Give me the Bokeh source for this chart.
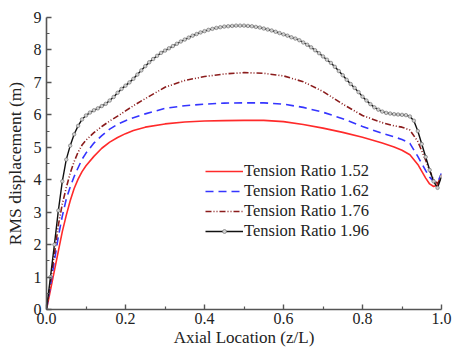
from bokeh.plotting import figure
from bokeh.models import Legend, LegendItem, FixedTicker, Range1d
from bokeh.embed import file_html
from bokeh.resources import INLINE

# ---- data ----
x_main = [0, 0.01, 0.02, 0.03, 0.04, 0.05, 0.06, 0.07, 0.08, 0.09, 0.10, 0.12, 0.14, 0.16,
          0.18, 0.20, 0.22, 0.25, 0.30, 0.35, 0.40, 0.45, 0.50, 0.55, 0.60, 0.65, 0.70,
          0.75, 0.80, 0.85, 0.88, 0.90, 0.92, 0.94, 0.96, 0.97, 0.98, 0.99, 1.0]
rms_152 = [0, 0.6, 1.2, 1.8, 2.4, 2.9, 3.35, 3.73, 4.02, 4.25, 4.43, 4.72, 4.97, 5.16, 5.3,
           5.42, 5.52, 5.62, 5.72, 5.78, 5.81, 5.82, 5.83, 5.83, 5.79, 5.7, 5.59, 5.46, 5.31,
           5.13, 5.01, 4.91, 4.77, 4.47, 4.05, 3.87, 3.79, 3.84, 4.15]
rms_162 = [0, 0.75, 1.5, 2.25, 2.88, 3.4, 3.78, 4.1, 4.37, 4.63, 4.82, 5.13, 5.36, 5.56, 5.71,
           5.82, 5.91, 6.03, 6.2, 6.28, 6.33, 6.36, 6.37, 6.37, 6.33, 6.23, 6.08, 5.88, 5.64,
           5.43, 5.32, 5.24, 5.12, 4.72, 4.28, 4.08, 3.95, 3.92, 4.2]
rms_176 = [0, 0.85, 1.7, 2.6, 3.25, 3.75, 4.2, 4.56, 4.85, 5.07, 5.22, 5.45, 5.64, 5.81, 5.96,
           6.12, 6.28, 6.5, 6.85, 7.06, 7.18, 7.26, 7.3, 7.28, 7.2, 7.02, 6.72, 6.33, 5.98,
           5.76, 5.66, 5.62, 5.53, 5.18, 4.6, 4.28, 4.0, 3.88, 4.1]
x_196 = [i / 100 for i in range(101)]
rms_196 = [0, 1.0, 2.0, 3.05, 3.95, 4.62, 5.05, 5.4, 5.66, 5.86,
           5.98, 6.07, 6.14, 6.2, 6.27, 6.34, 6.44, 6.55, 6.68, 6.8,
           6.9, 7.0, 7.11, 7.24, 7.37, 7.5, 7.62, 7.72, 7.82, 7.91,
           7.98, 8.05, 8.12, 8.19, 8.26, 8.32, 8.38, 8.44, 8.49, 8.54,
           8.58, 8.62, 8.65, 8.68, 8.7, 8.72, 8.73, 8.74, 8.75, 8.75,
           8.75, 8.74, 8.73, 8.71, 8.69, 8.66, 8.63, 8.6, 8.56, 8.52,
           8.48, 8.44, 8.39, 8.35, 8.3, 8.23, 8.16, 8.08, 7.99, 7.9,
           7.8, 7.7, 7.6, 7.48, 7.35, 7.22, 7.08, 6.95, 6.83, 6.7,
           6.56, 6.44, 6.33, 6.23, 6.16, 6.1, 6.06, 6.04, 6.02, 6.01,
           6.0, 5.99, 5.95, 5.82, 5.5, 5.1, 4.7, 4.3, 3.95, 3.75,
           4.1]
labels = ["Tension Ratio 1.52", "Tension Ratio 1.62", "Tension Ratio 1.76", "Tension Ratio 1.96"]
x_ticks = [0.0, 0.2, 0.4, 0.6, 0.8, 1.0]
y_ticks = [0, 1, 2, 3, 4, 5, 6, 7, 8, 9]

FONT = "Liberation Serif"
AX = "#555555"

p = figure(width=452, height=349, output_backend="svg", toolbar_location=None,
           x_range=Range1d(0, 1.0), y_range=Range1d(0, 9),
           min_border_left=46, min_border_right=11, min_border_top=17, min_border_bottom=38)
p.outline_line_color = None
p.grid.visible = False
p.background_fill_color = "white"

r1 = p.line(x_main, rms_152, line_color="#ff2a2a", line_width=1.6)
r2 = p.line(x_main, rms_162, line_color="#3535ff", line_width=1.6, line_dash="8 5")
r3 = p.line(x_main, rms_176, line_color="#8b1c1c", line_width=1.6, line_dash="6 2 1 2 1 2")
r4 = p.line(x_196, rms_196, line_color="#111111", line_width=1.4)
r4m = p.scatter(x_196, rms_196, marker="circle", size=3.5, fill_color="#d0d0d0",
                line_color="#666666", line_width=0.6)

legend = Legend(items=[
    LegendItem(label=labels[0], renderers=[r1]),
    LegendItem(label=labels[1], renderers=[r2]),
    LegendItem(label=labels[2], renderers=[r3]),
    LegendItem(label=labels[3], renderers=[r4]),
], location=(159, 68))
legend.border_line_color = None
legend.background_fill_alpha = 0
legend.label_text_font = FONT
legend.label_text_font_size = "16.5px"
legend.label_text_color = "#222222"
legend.glyph_width = 38
legend.glyph_height = 20
legend.label_height = 20
legend.label_standoff = 1
legend.spacing = 0
legend.padding = 0
legend.margin = 0
p.add_layout(legend, "center")

# small marker on the last legend entry (Bokeh scales legend markers to glyph height)
mk = Legend(items=[LegendItem(label=" ", renderers=[r4m])], location=(159, 73))
mk.border_line_color = None
mk.background_fill_alpha = 0
mk.label_text_font_size = "1px"
mk.glyph_width = 38
mk.glyph_height = 10
mk.label_height = 10
mk.label_width = 1
mk.label_standoff = 0
mk.spacing = 0
mk.padding = 0
mk.margin = 0
p.add_layout(mk, "center")

for ax in (p.xaxis, p.yaxis):
    ax.axis_line_color = AX
    ax.axis_line_width = 1.6
    ax.major_tick_line_color = AX
    ax.minor_tick_line_color = AX
    ax.major_tick_line_width = 1.4
    ax.minor_tick_line_width = 1.2
    ax.major_tick_in = 5
    ax.major_tick_out = 0
    ax.minor_tick_in = 3
    ax.minor_tick_out = 0
    ax.major_label_text_font = FONT
    ax.major_label_text_font_size = "16px"
    ax.major_label_text_color = "#222222"
    ax.axis_label_text_font = FONT
    ax.axis_label_text_font_style = "normal"
    ax.axis_label_text_color = "#222222"

p.xaxis.axis_label_text_font_size = "17px"
p.yaxis.axis_label_text_font_size = "17.5px"
p.xaxis.ticker = FixedTicker(ticks=x_ticks, minor_ticks=[0.1, 0.3, 0.5, 0.7, 0.9])
p.xaxis.major_label_overrides = {t: f"{t:.1f}" for t in x_ticks}
p.yaxis.ticker = FixedTicker(ticks=y_ticks, minor_ticks=[v + 0.5 for v in y_ticks[:-1]])
p.xaxis.axis_label = "Axial Location (z/L)"
p.yaxis.axis_label = "RMS displacement (m)"
p.xaxis.major_label_standoff = 3
p.xaxis.axis_label_standoff = 1
p.yaxis.major_label_standoff = 5
p.yaxis.axis_label_standoff = 6

open("out.html", "w").write(file_html(p, INLINE))
